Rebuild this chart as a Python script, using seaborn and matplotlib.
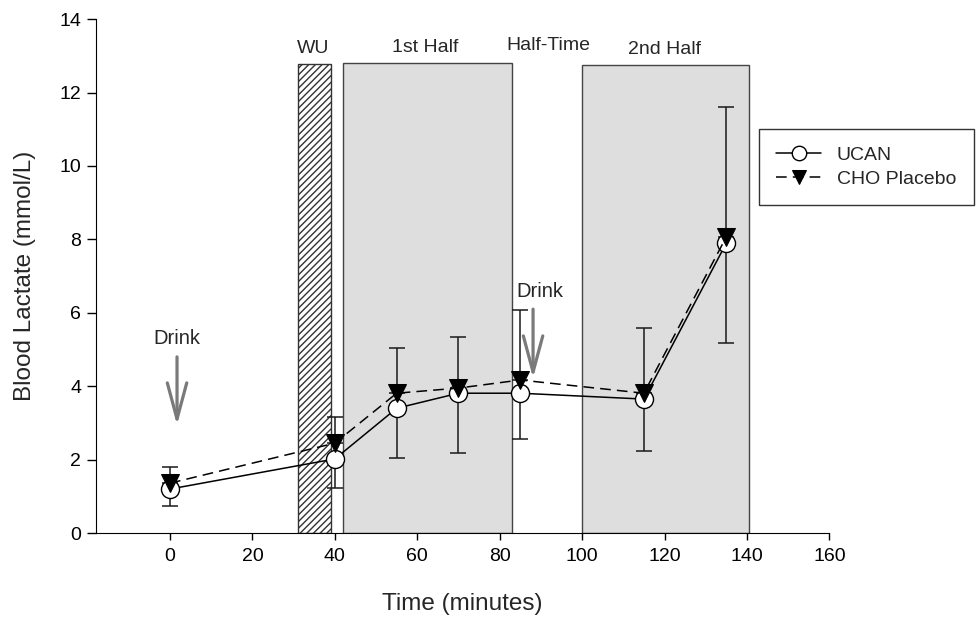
import matplotlib
matplotlib.use("Agg")
import matplotlib.pyplot as plt
from matplotlib.patches import Rectangle
import seaborn as sns
import pandas as pd

# Datos
time_min = [0, 40, 55, 70, 85, 115, 135]
ucan_mean = [1.20, 2.02, 3.40, 3.81, 3.81, 3.65, 7.90]
ucan_err = [0.46, 0.79, 1.36, 1.63, 1.25, 1.42, 2.72]   # se ve solo hacia abajo
cho_mean = [1.36, 2.45, 3.81, 3.95, 4.17, 3.81, 8.07]
cho_err = [0.44, 0.71, 1.23, 1.39, 1.91, 1.78, 3.53]    # se ve solo hacia arriba

# Fases del partido
phase_start = [31, 42, 100]
phase_end = [39, 83, 140.5]
phase_top = [12.78, 12.8, 12.75]
phase_label = ["WU", "1st Half", "2nd Half"]

drink_x = [1.7, 88.1]
drink_top = [4.8, 6.1]
drink_tip = [2.94, 4.22]

df = pd.DataFrame({"time": time_min, "UCAN": ucan_mean, "CHO Placebo": cho_mean})

sns.set_style("ticks")
plt.rcParams["font.family"] = ["Liberation Sans", "DejaVu Sans"]

fig = plt.figure(figsize=(9.78, 6.17), dpi=100)
ax = fig.add_axes([0.098, 0.136, 0.75, 0.833])

# Rectángulos de fondo
for i in range(3):
    x0, x1, top = phase_start[i], phase_end[i], phase_top[i]
    if phase_label[i] == "WU":
        rect = Rectangle((x0, 0), x1 - x0, top, facecolor="white",
                         edgecolor="#333333", hatch="/////", lw=1.0, zorder=0)
    else:
        rect = Rectangle((x0, 0), x1 - x0, top, facecolor="#dedede",
                         edgecolor="#444444", lw=1.0, zorder=0)
    ax.add_patch(rect)

ax.text(34.7, 13.19, "WU", ha="center", va="center", fontsize=14)
ax.text(61.9, 13.24, "1st Half", ha="center", va="center", fontsize=14)
ax.text(91.7, 13.27, "Half-Time", ha="center", va="center", fontsize=14)
ax.text(120.1, 13.16, "2nd Half", ha="center", va="center", fontsize=14)

# Barras de error
ax.errorbar(time_min, ucan_mean, yerr=[ucan_err, [0] * len(ucan_err)], fmt="none",
            ecolor="#1a1a1a", elinewidth=1.1, capsize=5.5, capthick=1.1, zorder=2)
ax.errorbar(time_min, cho_mean, yerr=[[0] * len(cho_err), cho_err], fmt="none",
            ecolor="#1a1a1a", elinewidth=1.1, capsize=5.5, capthick=1.1, zorder=2)

sns.lineplot(data=df, x="time", y="UCAN", ax=ax, color="black", lw=1.1,
             marker="o", markersize=13, markerfacecolor="white",
             markeredgecolor="black", markeredgewidth=1.0, label="UCAN", zorder=3)
sns.lineplot(data=df, x="time", y="CHO Placebo", ax=ax, color="black", lw=1.1,
             dashes=(7, 4), marker="v", markersize=13, markerfacecolor="black",
             markeredgecolor="black", label="CHO Placebo", zorder=4)

# Flechas de bebida
for xd, yt, yb in zip(drink_x, drink_top, drink_tip):
    ax.annotate("", xy=(xd, yb), xytext=(xd, yt),
                arrowprops=dict(arrowstyle="->,head_length=2.6,head_width=0.7",
                                mutation_scale=10, shrinkA=0, shrinkB=0,
                                color="#7a7a7a", lw=2.3), zorder=5)
ax.text(1.7, 5.3, "Drink", ha="center", va="center", fontsize=14.5)
ax.text(89.8, 6.57, "Drink", ha="center", va="center", fontsize=14.5)

ax.set_xlim(-18, 160)
ax.set_ylim(0, 14)
ax.set_xticks(range(0, 161, 20))
ax.set_yticks(range(0, 15, 2))
ax.tick_params(direction="out", width=1, labelsize=14, colors="black")
ax.tick_params(axis="y", length=6.5, pad=4)
ax.tick_params(axis="x", length=5, pad=6)
ax.spines["top"].set_visible(False)
ax.spines["right"].set_visible(False)
ax.spines["left"].set_color("black")
ax.spines["bottom"].set_color("black")
ax.set_xlabel("Time (minutes)", fontsize=17.5, labelpad=20)
ax.set_ylabel("Blood Lactate (mmol/L)", fontsize=17.5, labelpad=17)

leg = ax.legend(loc="upper left", bbox_to_anchor=(0.776, 0.791),
                bbox_transform=fig.transFigure, frameon=True, fancybox=False,
                edgecolor="black", fontsize=14, handlelength=2.3,
                markerscale=0.8, borderpad=0.9, labelspacing=0.32,
                handletextpad=0.8, borderaxespad=0)
leg.get_frame().set_linewidth(1.0)

fig.savefig("out.png", dpi=100)
